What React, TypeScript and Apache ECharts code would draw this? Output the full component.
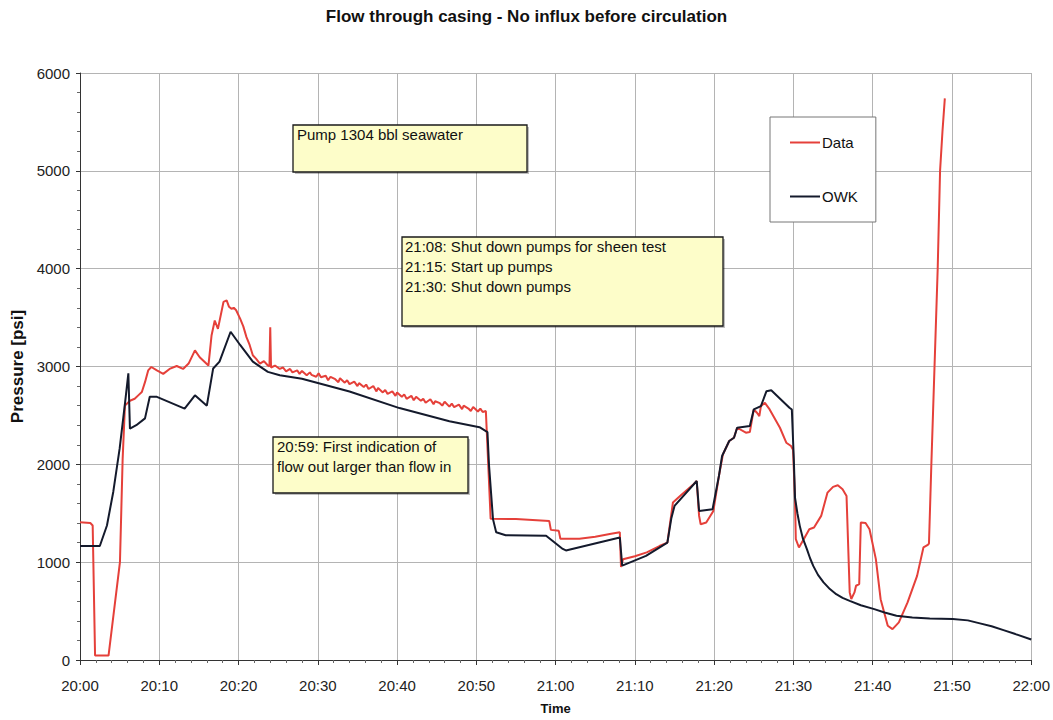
import React, { useEffect, useRef } from "react";
import * as echarts from "echarts";

const TITLE = "Flow through casing - No influx before circulation";
const TIME_LABELS = ["20:00", "20:10", "20:20", "20:30", "20:40", "20:50", "21:00", "21:10", "21:20", "21:30", "21:40", "21:50", "22:00"];

// minutes after 20:00 and pressure [psi]
const DATA_T = [
  0, 1.3, 1.6, 1.9, 3.6, 5.04, 5.38, 5.67, 6.3, 6.9, 7.35, 7.8, 8.2, 8.6, 9.0, 9.7, 10.5, 11.3, 12.2, 13.0, 13.7,
  14.5, 15.1, 16.2, 16.6, 17.0, 17.4, 18.1, 18.5, 18.8, 19.1, 19.4, 19.7, 20.2, 20.6, 21.0, 21.4, 21.8, 22.2, 22.7,
  23.2, 23.7, 23.9, 24.0, 24.1, 24.6, 25.2,
  25.6, 26.0, 26.5, 26.8, 27.4, 27.7, 28.0, 28.6, 29.0, 29.2, 29.8, 30.1, 30.4, 31.0, 31.3, 31.6, 32.2, 32.6, 32.8,
  33.4, 33.7, 34.0, 34.6, 35.0, 35.2, 35.8, 36.1, 36.4, 37.0, 37.4, 37.6, 38.2, 38.5, 38.8, 39.4, 39.8, 40.0, 40.6,
  40.9, 41.2, 41.8, 42.1, 42.4, 43.0, 43.3, 43.6, 44.2, 44.6, 44.8, 45.4, 45.7, 46.0, 46.6, 46.9, 47.2, 47.8, 48.2,
  48.4, 49.0, 49.3, 49.6, 50.2, 50.5, 50.8, 51.2, 51.5, 51.8,
  55.0, 59.2, 59.4, 60.4, 60.6, 63.0, 65.0, 67.0, 68.1, 68.25, 68.5, 70.0, 71.5, 73.1, 74.1, 74.8, 75.7, 77.4, 77.8,
  78.1, 78.3, 79.0, 79.9, 80.6, 81.1, 81.9, 82.5, 82.9, 84.0, 84.5, 85.0, 85.4, 85.7, 85.9, 86.4, 87.0, 88.3, 89.1,
  89.7, 89.95, 90.2, 90.3, 90.7, 91.3, 92.0, 92.6, 93.5, 94.3, 95.0, 95.6, 96.2, 96.7, 97.1, 97.3, 97.7, 97.9, 98.3,
  98.5, 99.1, 99.6, 100.4, 101.0, 101.9, 102.5, 103.3, 104.4, 105.6, 106.4, 106.9, 107.1, 107.4, 107.8, 108.2,
  108.5, 108.8, 109.1,
];
const DATA_P = [
  1408, 1400, 1375, 45, 45, 1000, 2056, 2600, 2650, 2670, 2705, 2740, 2840, 2960, 2995, 2960, 2925, 2975, 3005, 2975, 3030,
  3165, 3095, 3010, 3320, 3470, 3385, 3660, 3675, 3610, 3590, 3600, 3575, 3490, 3410, 3300, 3220, 3115, 3080, 3030,
  3055, 3010, 3000, 3400, 2990, 3010, 2975,
  2990, 2950, 2975, 2940, 2960, 2925, 2955, 2910, 2940, 2915, 2895, 2930, 2890, 2905, 2860, 2895, 2870, 2840, 2880,
  2835, 2860, 2820, 2845, 2800, 2830, 2790, 2815, 2770, 2800, 2745, 2780, 2735, 2760, 2720, 2745, 2700, 2735, 2690,
  2715, 2670, 2700, 2655, 2690, 2650, 2670, 2630, 2665, 2615, 2645, 2625, 2600, 2640, 2590, 2620, 2585, 2610, 2565,
  2600, 2570, 2545, 2585, 2540, 2570, 2535, 2545, 2000, 1445,
  1440, 1420, 1330, 1320, 1240, 1240, 1260, 1290, 1305, 950, 1030, 1060, 1100, 1165, 1200, 1610, 1677, 1796, 1830,
  1473, 1388, 1405, 1524, 1880, 2100, 2238, 2272, 2374, 2323, 2330, 2561, 2527, 2493, 2595, 2629, 2561, 2374, 2221,
  2187, 2150, 1643, 1235, 1150, 1235, 1337, 1354, 1473, 1711, 1770, 1786, 1745, 1677, 691, 623, 691, 759, 776,
  1405, 1400, 1337, 1031, 622, 350, 316, 384, 589, 860, 1150, 1173, 1190, 2000, 3000, 4000,
  5000, 5400, 5740,
];

const OWK_T = [
  0, 2.5, 3.4, 4.2, 5.0, 5.7, 6.1, 6.3, 7.1, 8.2, 8.8, 9.7, 13.2, 14.5, 16.0, 16.8, 17.6, 19.0, 20.2, 21.8, 23.7,
  25.2, 28.0, 34.0, 40.3, 46.6, 50.4, 51.4, 51.6, 52.1, 52.5, 53.7, 58.8, 60.9, 61.3, 68.1, 68.4, 71.4, 74.1, 74.6,
  75.0, 77.8, 78.1, 79.8, 80.6, 81.0, 81.9, 82.5, 82.9, 84.5, 85.0, 85.9, 86.6, 87.2, 89.5, 89.8, 90.05, 90.2, 90.5,
  90.8, 91.2, 91.7, 92.1, 92.5, 93.1, 93.8, 94.6, 95.4, 96.2, 97.1, 98.5, 100.2, 101.5, 103.0, 105.0, 107.2, 110.1,
  112.0, 113.4, 115.0, 116.5, 118.0, 120.0,
];
const OWK_P = [
  1165, 1165, 1375, 1720, 2160, 2640, 2930, 2365, 2400, 2470, 2690, 2690, 2570, 2705, 2600, 2980, 3050, 3355, 3220, 3050, 2945,
  2910, 2875, 2745, 2575, 2440, 2380, 2330, 1990, 1440, 1305, 1275, 1270, 1135, 1120, 1252, 965, 1065, 1200, 1450,
  1575, 1830, 1524, 1541, 1881, 2085, 2238, 2272, 2374, 2391, 2561, 2595, 2748, 2758, 2579, 2560, 2050, 1660, 1500,
  1371, 1240, 1133, 1040, 962, 870, 793, 725, 673, 635, 605, 560, 520, 485, 452, 435, 425, 418,
  405, 377, 345, 305, 265, 210,
];

const ANNOTATIONS = [
  "Pump 1304 bbl seawater",
  "21:08: Shut down pumps for sheen test\n21:15: Start up pumps\n21:30: Shut down pumps",
  "20:59: First indication of\nflow out larger than flow in",
];

const FONT = "'Liberation Sans', Arial, sans-serif";

function box(text: string, x: number, y: number, w: number, h: number, tx: number) {
  return {
    type: "group",
    z: 100,
    children: [
      { type: "rect", z: 100, shape: { x: x + 2, y: y + 2, width: w, height: h }, style: { fill: "rgba(0,0,0,0.25)" } },
      { type: "rect", z: 101, shape: { x, y, width: w, height: h }, style: { fill: "#fdfdc9", stroke: "#1a1a1a", lineWidth: 1.3 } },
      {
        type: "text",
        z: 102,
        x: x + tx,
        y: y,
        style: { text, fill: "#111", font: `15px ${FONT}`, lineHeight: 19.6, verticalAlign: "top", align: "left" },
      },
    ],
  };
}

export default function App() {
  const ref = useRef<HTMLDivElement>(null);
  useEffect(() => {
    if (!ref.current) return;
    const chart = echarts.init(ref.current, undefined, { renderer: "svg" });
    const dataSeries = DATA_T.map((t, i) => [t, DATA_P[i]]);
    const owkSeries = OWK_T.map((t, i) => [t, OWK_P[i]]);
    chart.setOption({
      animation: false,
      backgroundColor: "#ffffff",
      title: {
        text: TITLE,
        left: "center",
        top: 3,
        textStyle: { fontFamily: FONT, fontSize: 17, fontWeight: "bold", color: "#111" },
      },
      grid: { left: 80, right: 21, top: 73, bottom: 59 },
      legend: {
        orient: "vertical",
        left: 770,
        top: 117,
        padding: [18, 18, 18, 20],
        itemGap: 39,
        itemWidth: 30,
        itemHeight: 2,
        backgroundColor: "#ffffff",
        borderColor: "#777",
        borderWidth: 1,
        textStyle: { fontFamily: FONT, fontSize: 15, color: "#111", padding: [0, 0, 0, -3] },
        data: [
          { name: "Data", icon: "rect" },
          { name: "OWK", icon: "rect" },
        ],
      },
      xAxis: {
        type: "value",
        min: 0,
        max: 120,
        interval: 10,
        name: "Time",
        nameLocation: "middle",
        nameGap: 42,
        nameTextStyle: { fontFamily: FONT, fontSize: 13, fontWeight: "bold", color: "#111" },
        axisLine: { lineStyle: { color: "#333", width: 1 } },
        axisTick: { show: true, length: 5, lineStyle: { color: "#333" } },
        minorTick: { show: true, splitNumber: 5, length: 3, lineStyle: { color: "#666" } },
        axisLabel: {
          margin: 18,
          fontFamily: FONT,
          fontSize: 15,
          color: "#222",
          formatter: (v: number) => TIME_LABELS[Math.round(v / 10)] ?? "",
        },
        splitLine: { show: true, lineStyle: { color: "#b4b4b4", width: 1 } },
      },
      yAxis: {
        type: "value",
        min: 0,
        max: 6000,
        interval: 1000,
        name: "Pressure [psi]",
        nameLocation: "middle",
        nameGap: 53,
        nameTextStyle: { fontFamily: FONT, fontSize: 17, fontWeight: "bold", color: "#111" },
        axisLine: { show: true, lineStyle: { color: "#333", width: 1 } },
        axisTick: { show: true, length: 4, lineStyle: { color: "#333" } },
        minorTick: { show: true, splitNumber: 5, length: 3, lineStyle: { color: "#666" } },
        axisLabel: { margin: 10, fontFamily: FONT, fontSize: 15, color: "#222", formatter: (v: number) => String(v) },
        splitLine: { show: true, lineStyle: { color: "#b4b4b4", width: 1 } },
      },
      series: [
        {
          name: "OWK",
          type: "line",
          data: owkSeries,
          showSymbol: false,
          symbol: "none",
          lineStyle: { color: "#141a2c", width: 2 },
          itemStyle: { color: "#141a2c" },
          z: 3,
        },
        {
          name: "Data",
          type: "line",
          data: dataSeries,
          showSymbol: false,
          symbol: "none",
          lineStyle: { color: "#e5403a", width: 2 },
          itemStyle: { color: "#e5403a" },
          z: 2,
        },
      ],
      graphic: [
        box(ANNOTATIONS[0], 293, 125, 234, 47, 4),
        box(ANNOTATIONS[1], 402, 237, 321, 89, 3),
        box(ANNOTATIONS[2], 273, 437, 195, 56, 4),
      ],
    });
    return () => chart.dispose();
  }, []);
  return <div ref={ref} style={{ position: "absolute", left: 0, top: 0, width: 1053, height: 720 }} />;
}
